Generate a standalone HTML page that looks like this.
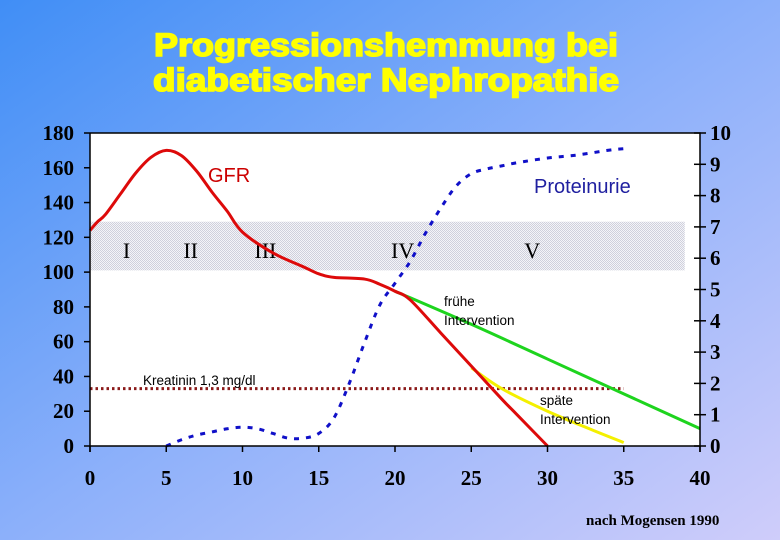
<!DOCTYPE html>
<html><head><meta charset="utf-8"><style>
html,body{margin:0;padding:0;width:780px;height:540px;overflow:hidden}
svg{display:block}
</style></head><body>
<svg width="780" height="540" xmlns="http://www.w3.org/2000/svg">
<defs>
<linearGradient id="bg" x1="0" y1="0" x2="1" y2="1">
<stop offset="0" stop-color="#408ef6"/><stop offset="0.5" stop-color="#8cb0fa"/><stop offset="1" stop-color="#cfcdfa"/>
</linearGradient>
<pattern id="hatch" width="2" height="2" patternUnits="userSpaceOnUse">
<rect width="2" height="2" fill="#f4f4f8"/><rect width="1" height="1" fill="#cfd0dc"/><rect x="1" y="1" width="1" height="1" fill="#cfd0dc"/>
</pattern>
</defs>
<rect width="780" height="540" fill="url(#bg)"/>
<g font-family="'Liberation Sans',sans-serif" font-weight="bold" font-size="32" fill="#ffff00" text-anchor="middle">
<text x="386" y="56" textLength="464" lengthAdjust="spacingAndGlyphs" stroke="#ffff00" stroke-width="1.6">Progressionshemmung bei</text>
<text x="386" y="91" textLength="466" lengthAdjust="spacingAndGlyphs" stroke="#ffff00" stroke-width="1.6">diabetischer Nephropathie</text>
</g>
<rect x="90" y="133" width="610" height="313" fill="#fff"/>
<g id="plot"></g>
<text x="586" y="525" font-family="'Liberation Serif',serif" font-weight="bold" font-size="15" fill="#000">nach Mogensen 1990</text>
</svg>
<script>
const xTicks=[0,5,10,15,20,25,30,35,40];
const yTicks=[0,20,40,60,80,100,120,140,160,180];
const y2Ticks=[0,1,2,3,4,5,6,7,8,9,10];
const gfrX=[0,0.5,1,2,3,4,5,6,7,8,9,10,12,14,15,16,18,19,20,21,23,25,27,28,30];
const gfrY=[124,129,133,145,157,166,170,167,158,146,135,123,111,103,99,97,96,93,89,84,65,46,27,18,0];
const fruehX=[20,25,30,35,40];
const fruehY=[89,70,50,30,10];
const spaetX=[25,27,30,33,35];
const spaetY=[45,33,20,9,2];
const protX=[5,6,7,8,9,10,11,12,13,14,15,16,17,18,19,20,21,22,23,24,25,26,27,28,30,32,34,35];
const protY=[0,0.2,0.35,0.45,0.55,0.6,0.55,0.4,0.25,0.25,0.4,0.9,2,3.3,4.5,5.2,5.9,6.8,7.6,8.3,8.7,8.85,8.95,9.05,9.2,9.3,9.45,9.5];
const kreatinin=33;
const band=[101,129];
const stages=["I","II","III","IV","V"];
const stageX=[2.4,6.6,11.5,20.5,29];
const NS="http://www.w3.org/2000/svg";
const X0=90,X1=700,Y0=446,Y1=133;
const sx=v=>X0+(X1-X0)*v/40;
const sy=v=>Y0-(Y0-Y1)*v/180;
const sy2=v=>Y0-(Y0-Y1)*v/10;
const g=document.getElementById('plot');
function mk(t,a){const e=document.createElementNS(NS,t);for(const k in a)e.setAttribute(k,a[k]);g.appendChild(e);return e;}
function smooth(pts){let d="M"+pts[0][0]+","+pts[0][1];for(let i=0;i<pts.length-1;i++){const p0=pts[i-1]||pts[i],p1=pts[i],p2=pts[i+1],p3=pts[i+2]||p2;d+=" C"+(p1[0]+(p2[0]-p0[0])/6)+","+(p1[1]+(p2[1]-p0[1])/6)+" "+(p2[0]-(p3[0]-p1[0])/6)+","+(p2[1]-(p3[1]-p1[1])/6)+" "+p2[0]+","+p2[1];}return d;}
let e;
e=mk('rect',{x:X0,y:sy(band[1]),width:sx(39)-X0,height:sy(band[0])-sy(band[1]),fill:'url(#hatch)'});


stages.forEach((s,i)=>{const t=mk('text',{x:sx(stageX[i]),y:sy(108),'font-family':"'Liberation Serif',serif",'font-size':22,'text-anchor':'middle',fill:'#000'});t.textContent=s;

});
e=mk('line',{x1:X0,x2:sx(35),y1:sy(kreatinin),y2:sy(kreatinin),stroke:'#8b1a1a','stroke-width':3,'stroke-dasharray':'2.5,3'});


e=mk('path',{d:smooth(protX.map((x,i)=>[sx(x),sy2(protY[i])])),fill:'none',stroke:'#1010c8','stroke-width':3,'stroke-dasharray':'5,7'});


e=mk('path',{d:smooth(fruehX.map((x,i)=>[sx(x),sy(fruehY[i])])),fill:'none',stroke:'#1ed41e','stroke-width':3});


e=mk('path',{d:smooth(spaetX.map((x,i)=>[sx(x),sy(spaetY[i])])),fill:'none',stroke:'#f4f000','stroke-width':3});


e=mk('path',{d:smooth(gfrX.map((x,i)=>[sx(x),sy(gfrY[i])])),fill:'none',stroke:'#dd0a0a','stroke-width':3});


const labels=[["GFR",208,182,20,'#cc0000','gfr-label'],["Proteinurie",534,193,20,'#2020a0','proteinurie-label'],["Kreatinin 1,3 mg/dl",143,385,13.5,'#000','kreatinin-label'],["frühe",444,306,13.5,'#000','fruehe-label'],["Intervention",444,325,13.5,'#000','fruehe-label-2'],["späte",540,405,13.5,'#000','spaete-label'],["Intervention",540,424,13.5,'#000','spaete-label-2']];
labels.forEach(l=>{const t=mk('text',{x:l[1],y:l[2],'font-family':"'Liberation Sans',sans-serif",'font-size':l[3],fill:l[4]});t.textContent=l[0];

});
e=mk('path',{d:`M${X0},${Y1}H${X1}V${Y0+6}M${X0},${Y1-0}V${Y0+6}M${X0},${Y0}H${X1}`,fill:'none',stroke:'#000','stroke-width':1.5});


const tf={'font-family':"'Liberation Serif',serif",'font-weight':'bold','font-size':21,fill:'#000'};
xTicks.forEach(v=>{mk('line',{x1:sx(v),x2:sx(v),y1:Y0,y2:Y0+6,stroke:'#000','stroke-width':1.5});const t=mk('text',Object.assign({x:sx(v),y:485,'text-anchor':'middle'},tf));t.textContent=v;

});
yTicks.forEach(v=>{mk('line',{x1:X0-6,x2:X0,y1:sy(v),y2:sy(v),stroke:'#000','stroke-width':1.5});const t=mk('text',Object.assign({x:74,y:sy(v)+7,'text-anchor':'end'},tf));t.textContent=v;

});
y2Ticks.forEach(v=>{mk('line',{x1:X1-6,x2:X1+6,y1:sy2(v),y2:sy2(v),stroke:'#000','stroke-width':1.5});const t=mk('text',Object.assign({x:710,y:sy2(v)+7,'text-anchor':'start'},tf));t.textContent=v;

});
</script>
</body></html>
